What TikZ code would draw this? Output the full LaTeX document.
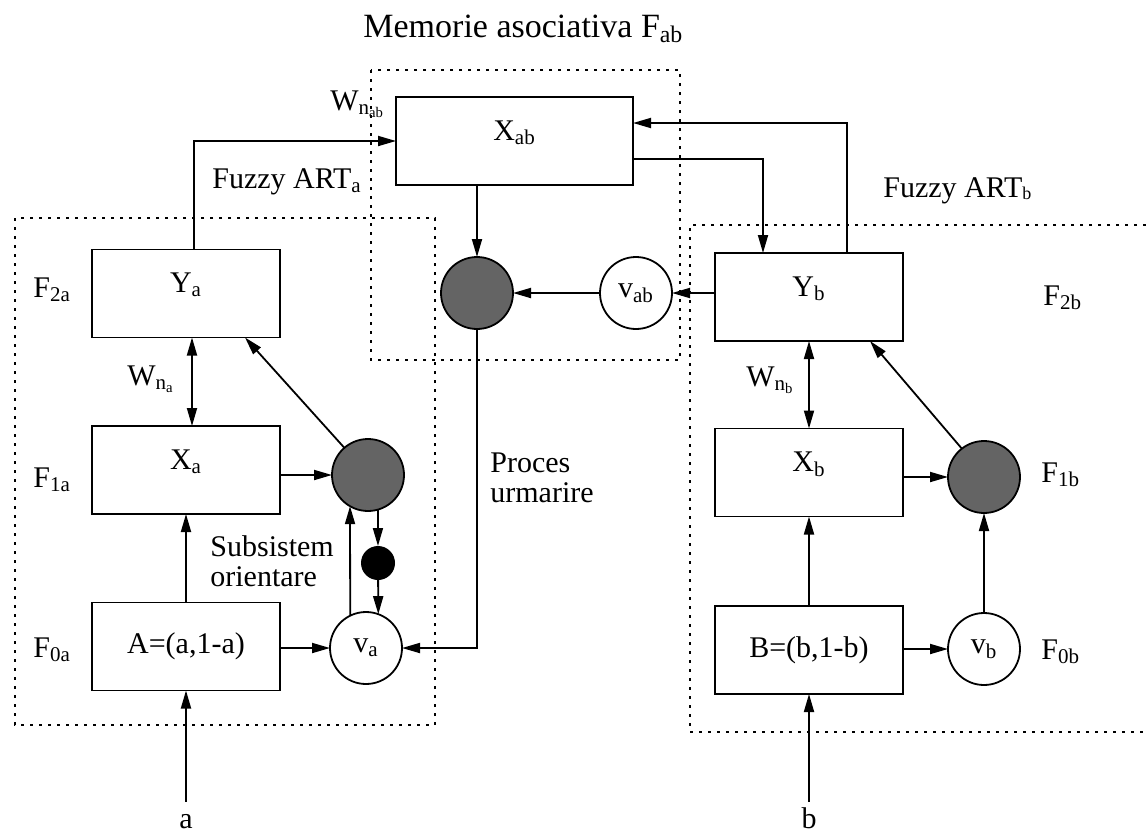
\documentclass[tikz,border=0pt]{standalone}
\usepackage{fontspec}
\setmainfont{Liberation Serif}
\usetikzlibrary{arrows.meta, calc}
\definecolor{stipple}{RGB}{100,100,100}

\begin{document}
\begin{tikzpicture}[x=0.5pt, y=-0.5pt,
  every node/.style={font=\fontsize{15}{15}\selectfont},
  layer/.style={draw, line width=0.9pt, minimum width=94pt, minimum height=44pt, inner sep=0pt, outer sep=0pt},
  ylayer/.style={layer, text height=10pt, text depth=11pt},
  cell/.style={draw, circle, line width=0.9pt, minimum size=36pt, inner sep=0pt, outer sep=0pt},
  reset/.style={cell, fill=stipple},
  inlbl/.style={anchor=base, text height=10pt, text depth=0pt, inner sep=3pt},
  txt/.style={anchor=base west, inner sep=0pt},
  arr/.style={line width=0.9pt, -{Triangle[length=9pt,width=5pt]}},
  darr/.style={line width=0.9pt, {Triangle[length=9pt,width=5pt]}-{Triangle[length=9pt,width=5pt]}},
  module/.style={line width=0.8pt, dash pattern=on 1.5pt off 3pt}]
  \useasboundingbox (0,0) rectangle (1146,836);

  % dotted modules
  \draw[module] (371,70) rectangle (680,360);
  \draw[module] (15,218) rectangle (435,725);
  \draw[module] (1146,225) -| (690,732) -- (1146,732);

  % map field
  \node[ylayer, minimum width=118.5pt] (Xab) at (514.5,141) {X\textsubscript{ab}};
  \node[reset] (cab) at (477,293) {};
  \node[cell] (vab) at (636,293) {v\textsubscript{ab}};

  % ART a
  \node[ylayer] (Ya) at (186,293.5) {Y\textsubscript{a}};
  \node[ylayer] (Xa) at (186,470) {X\textsubscript{a}};
  \node[layer] (A) at (186,646.5) {A=(a,1-a)};
  \node[reset] (ca) at (368,475) {};
  \node[cell] (va) at (366,648) {v\textsubscript{a}};
  \node[circle, fill, minimum size=17pt, inner sep=0pt, outer sep=0pt] (inh) at (378,563) {};
  \node[inlbl] (ina) at (186,828) {a};

  % ART b
  \node[ylayer] (Yb) at (809,297) {Y\textsubscript{b}};
  \node[ylayer] (Xb) at (809,472.5) {X\textsubscript{b}};
  \node[layer] (B) at (809,650) {B=(b,1-b)};
  \node[reset] (cb) at (984,477) {};
  \node[cell] (vb) at (984,649) {v\textsubscript{b}};
  \node[inlbl] (inb) at (809,828) {b};

  % labels
  \node[txt, font=\fontsize{17}{17}\selectfont] (title) at (363,37) {Memorie asociativa F\textsubscript{ab}};
  \node[txt] (wnab) at (330,110) {W\textsubscript{n\textsubscript{ab}}};
  \node[txt] (arta) at (212,188) {Fuzzy ART\textsubscript{a}};
  \node[txt] (f2a) at (33,297) {F\textsubscript{2a}};
  \node[txt] (wna) at (127,385) {W\textsubscript{n\textsubscript{a}}};
  \node[txt] (f1a) at (33,487) {F\textsubscript{1a}};
  \node[txt] (f0a) at (33,657) {F\textsubscript{0a}};
  \node[txt] (artb) at (883,197) {Fuzzy ART{\small\raisebox{-1pt}{b}}};
  \node[txt] (f2b) at (1043,305) {F\textsubscript{2b}};
  \node[txt] (wnb) at (746,386) {W\textsubscript{n\textsubscript{b}}};
  \node[txt] (f1b) at (1041,482) {F\textsubscript{1b}};
  \node[txt] (f0b) at (1041,659) {F\textsubscript{0b}};
  \node[anchor=north west, inner sep=0pt, align=left] (orient) at (210,535) {Subsistem\\orientare};
  \node[anchor=north west, inner sep=0pt, align=left] (track) at (490,452) {Proces\\urmarire};

  % connections
  \draw[arr] ([xshift=4pt]Ya.north) |- (Xab.west);
  \draw[arr] ([yshift=-9pt]Xab.east) -| ([xshift=-23pt]Yb.north);
  \draw[arr] ([xshift=19pt]Yb.north) |- ([yshift=9pt]Xab.east);
  \draw[arr] (Xab.south -| cab) -- (cab.north);
  \draw[arr] (vab) -- (cab);
  \draw[arr] (Yb.west |- vab) -- (vab);
  \draw[arr] (cab) |- (va);

  \draw[darr] ([xshift=3pt]Ya.south) -- ([xshift=3pt]Xa.north);
  \draw[arr] (A) -- (Xa);
  \draw[arr] (Xa.east |- ca) -- (ca);
  \draw[arr] (A.east |- va) -- (va);
  \draw[arr] (ca.131) -- ([xshift=29.5pt]Ya.south);
  \draw[arr] (va.116) -- (ca.240);
  \draw[arr] (ca.286) -- (inh);
  \draw[arr] (inh) -- (va.70);
  \draw[arr] (ina) -- (A);

  \draw[darr] (Yb) -- (Xb);
  \draw[arr] (B) -- (Xb);
  \draw[arr] (Xb.east |- cb) -- (cb);
  \draw[arr] (B.east |- vb) -- (vb);
  \draw[arr] (vb) -- (cb);
  \draw[arr] (cb.128) -- ([xshift=30.5pt]Yb.south);
  \draw[arr] (inb) -- (B);
\end{tikzpicture}
\end{document}
